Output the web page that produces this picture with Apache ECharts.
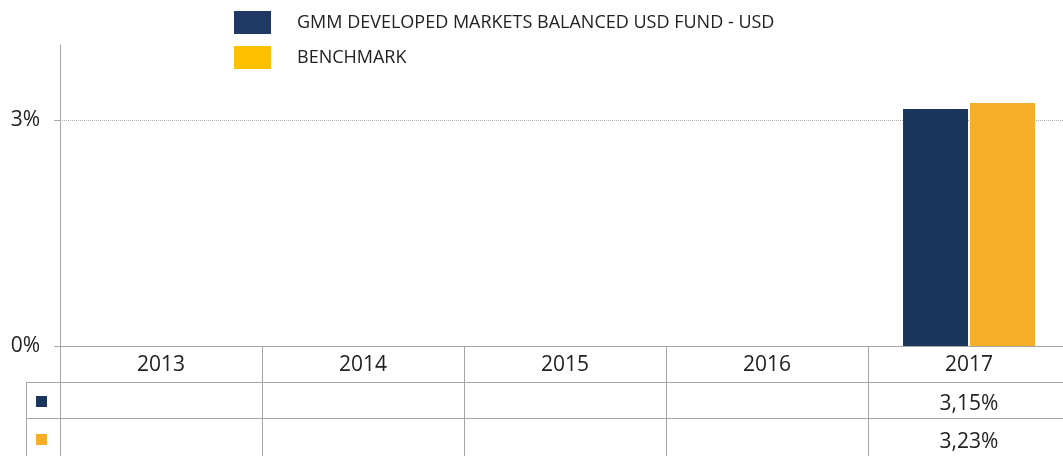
<!DOCTYPE html>
<html>
<head>
<meta charset="utf-8">
<script src="https://cdn.jsdelivr.net/npm/echarts@6/dist/echarts.min.js"></script>
<style>
  html, body { margin: 0; padding: 0; background: #fff; }
  #chart { width: 1063px; height: 456px; }
</style>
</head>
<body>
<div id="chart"></div>
<script>
// data
const years = ['2013', '2014', '2015', '2016', '2017'];
const fundValues = [null, null, null, null, 3.15];
const benchValues = [null, null, null, null, 3.23];
const yTicks = [0, 3];

const fundName = 'GMM DEVELOPED MARKETS BALANCED USD FUND - USD';
const benchName = 'BENCHMARK';

const navy = '#1b365d';
const orange = '#f5ae27';
const gridGrey = '#a6a6a6';
const font = 'Open Sans';

function pct(v) {
  return v == null ? '' : v.toFixed(2).replace('.', ',') + '%';
}

let chart = echarts.init(document.getElementById('chart'));
chart.setOption({
  animation: false,
  textStyle: { fontFamily: font },
  legend: {
    orient: 'vertical',
    left: 234,
    top: 11,
    padding: 0,
    itemWidth: 37,
    itemHeight: 23,
    itemGap: 12,
    icon: 'rect',
    selectedMode: false,
    textStyle: { fontSize: 18, color: '#222', padding: [0, 0, 0, 21] },
    data: [
      { name: fundName, itemStyle: { color: '#203864' } },
      { name: benchName, itemStyle: { color: '#ffc000' } }
    ]
  },
  grid: { left: 60, top: 45, width: 1010, bottom: 110, containLabel: false, outerBoundsMode: 'none' },
  xAxis: [
    {
      type: 'category',
      data: years,
      axisLine: { lineStyle: { color: gridGrey } },
      axisTick: { show: true, interval: 0, length: 110, lineStyle: { color: gridGrey } },
      axisLabel: { fontSize: 21, color: '#222', margin: 9 }
    },
    {
      type: 'category',
      data: years,
      position: 'bottom',
      offset: 36,
      axisLine: { lineStyle: { color: gridGrey } },
      axisTick: { show: false },
      axisLabel: { interval: 0, fontSize: 21, color: '#222', margin: 12,
        formatter: (v, i) => pct(fundValues[i]) }
    },
    {
      type: 'category',
      data: years,
      position: 'bottom',
      offset: 72,
      axisLine: { lineStyle: { color: gridGrey } },
      axisTick: { show: false },
      axisLabel: { interval: 0, fontSize: 21, color: '#222', margin: 14,
        formatter: (v, i) => pct(benchValues[i]) }
    }
  ],
  yAxis: {
    type: 'value',
    min: 0,
    max: 4,
    interval: 1,
    axisLine: { show: true, lineStyle: { color: gridGrey } },
    axisTick: { show: true, length: 6, customValues: yTicks, lineStyle: { color: gridGrey } },
    axisLabel: { fontSize: 21, color: '#222', margin: 20, customValues: yTicks,
      formatter: v => v + '%' },
    splitLine: { show: true, showMinLine: false,
      lineStyle: { color: '#b0b0b0', type: 'dotted' } }
  },
  series: [
    {
      name: fundName,
      type: 'bar',
      data: fundValues,
      barWidth: 65,
      barGap: '3%',
      itemStyle: { color: navy }
    },
    {
      name: benchName,
      type: 'bar',
      data: benchValues,
      barWidth: 65,
      itemStyle: { color: orange }
    }
  ],
  graphic: [
    { type: 'line', shape: { x1: 26, y1: 382.5, x2: 60, y2: 382.5 }, style: { stroke: gridGrey, lineWidth: 1 } },
    { type: 'line', shape: { x1: 26, y1: 418.5, x2: 60, y2: 418.5 }, style: { stroke: gridGrey, lineWidth: 1 } },
    { type: 'line', shape: { x1: 26.5, y1: 382, x2: 26.5, y2: 456 }, style: { stroke: gridGrey, lineWidth: 1 } },
    { type: 'rect', shape: { x: 36, y: 396, width: 11, height: 11 }, style: { fill: navy } },
    { type: 'rect', shape: { x: 36, y: 434, width: 11, height: 11 }, style: { fill: orange } }
  ]
});
</script>
</body>
</html>
